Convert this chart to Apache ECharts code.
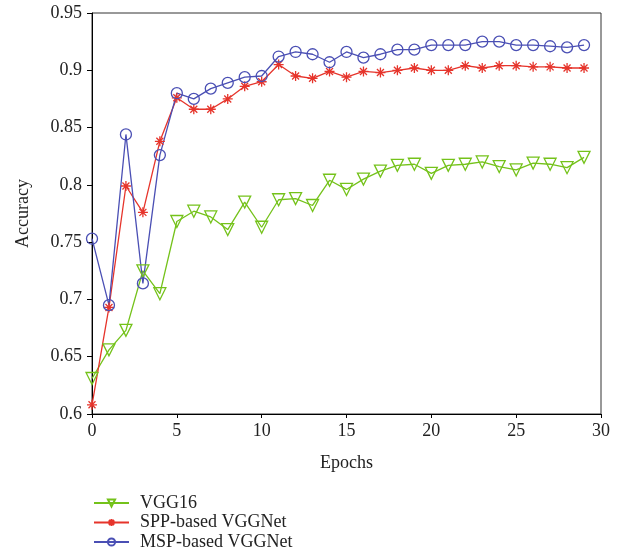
<!DOCTYPE html>
<html>
<head>
<meta charset="utf-8">
<script src="https://cdn.jsdelivr.net/npm/echarts@6/dist/echarts.min.js"></script>
<style>
  html, body { margin: 0; padding: 0; background: #fff; }
  #chart { width: 632px; height: 556px; }
</style>
</head>
<body>
<div id="chart"></div>
<script>
  // epochs 0..29
  const epochs = [0,1,2,3,4,5,6,7,8,9,10,11,12,13,14,15,16,17,18,19,20,21,22,23,24,25,26,27,28,29];

  const vgg16 = [0.631,0.656,0.673,0.725,0.705,0.768,0.777,0.772,0.761,0.785,0.763,0.787,0.788,0.782,0.804,0.796,
    0.805,0.812,0.817,0.818,0.810,0.817,0.818,0.820,0.816,0.813,0.819,0.818,0.815,0.824];
  const sppNet = [0.608,0.693,0.799,0.776,0.838,0.876,0.866,0.866,0.875,0.886,0.890,0.905,0.895,0.893,0.899,0.894,
    0.899,0.898,0.900,0.902,0.900,0.900,0.904,0.902,0.904,0.904,0.903,0.903,0.902,0.902];
  const mspNet = [0.753,0.695,0.844,0.714,0.826,0.880,0.875,0.884,0.889,0.894,0.895,0.912,0.916,0.914,0.907,0.916,
    0.911,0.914,0.918,0.918,0.922,0.922,0.922,0.925,0.925,0.922,0.922,0.921,0.920,0.922];

  const xTicks = [0,5,10,15,20,25,30];
  const yTicks = [0.6,0.65,0.7,0.75,0.8,0.85,0.9,0.95];

  const seriesNames = ['VGG16','SPP-based VGGNet','MSP-based VGGNet'];
  const colors = ['#74c21a','#e6342b','#4a4fb4'];

  // asterisk marker (matlab '*')
  const star = 'path://M0,-10L0,10M-10,0L10,0M-7,-7L7,7M-7,7L7,-7';

  const font = '"Liberation Serif", "DejaVu Serif", serif';

  function pairs(vals) {
    return epochs.map((e, i) => [e, vals[i]]);
  }

  function makeSeries(name, vals, color, symbol, size, rotate) {
    return {
      name: name,
      type: 'line',
      data: pairs(vals),
      symbol: symbol,
      symbolSize: size,
      symbolRotate: rotate || 0,
      showAllSymbol: true,
      clip: false,
      color: color,
      lineStyle: { color: color, width: 1.3 },
      itemStyle: { color: 'transparent', borderColor: color, borderWidth: 1.3 },
      emphasis: { disabled: true },
      animation: false
    };
  }

  let myChart = echarts.init(document.getElementById('chart'));
  myChart.setOption({
    backgroundColor: '#fff',
    animation: false,
    grid: {
      left: 92, top: 13, right: 31, bottom: 142,
      show: true, borderColor: '#333', borderWidth: 1, backgroundColor: 'transparent'
    },
    legend: {
      orient: 'vertical',
      left: 93, top: 494,
      padding: 0,
      itemWidth: 35, itemHeight: 9, itemGap: 1.5,
      textStyle: { fontFamily: font, fontSize: 18, lineHeight: 18, color: '#222', padding: [0, 0, 0, 6] },
      data: seriesNames
    },
    xAxis: {
      type: 'value',
      min: 0, max: 30, interval: 5,
      name: 'Epochs',
      nameLocation: 'middle',
      nameGap: 40,
      nameTextStyle: { fontFamily: font, fontSize: 18, color: '#222' },
      axisLine: { onZero: false, lineStyle: { color: '#000', width: 1 } },
      axisTick: { show: true, length: 4, lineStyle: { color: '#000' } },
      axisLabel: { fontFamily: font, fontSize: 18, color: '#222', margin: 8,
        formatter: v => xTicks.indexOf(v) >= 0 ? String(v) : '' },
      splitLine: { show: false }
    },
    yAxis: {
      type: 'value',
      min: 0.6, max: 0.95, interval: 0.05,
      name: 'Accuracy',
      nameLocation: 'middle',
      nameGap: 60,
      nameTextStyle: { fontFamily: font, fontSize: 18, color: '#222' },
      axisLine: { onZero: false, lineStyle: { color: '#000', width: 1 } },
      axisTick: { show: true, length: 5, lineStyle: { color: '#000' } },
      axisLabel: { fontFamily: font, fontSize: 18, color: '#222', margin: 10,
        formatter: v => {
          let r = Math.round(v * 100) / 100;
          return yTicks.indexOf(r) >= 0 ? String(r) : '';
        } },
      splitLine: { show: false }
    },
    series: [
      makeSeries(seriesNames[0], vgg16, colors[0], 'triangle', 12, 180),
      makeSeries(seriesNames[1], sppNet, colors[1], star, 10),
      makeSeries(seriesNames[2], mspNet, colors[2], 'circle', 11)
    ]
  });
</script>
</body>
</html>
